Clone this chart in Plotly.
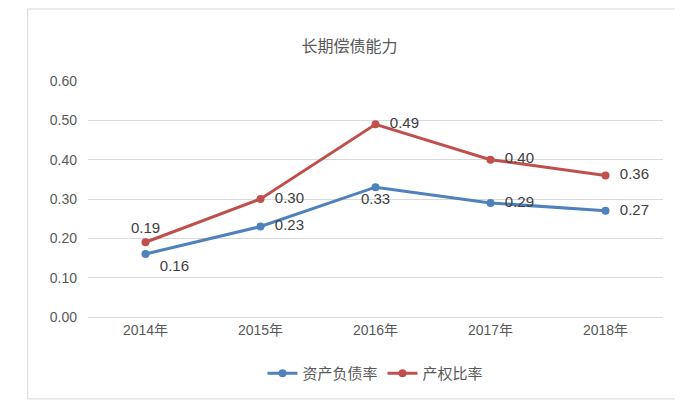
import plotly.graph_objects as go

years = ["2014年", "2015年", "2016年", "2017年", "2018年"]
debt_ratio = [0.16, 0.23, 0.33, 0.29, 0.27]
equity_ratio = [0.19, 0.30, 0.49, 0.40, 0.36]
blue_pos = ["bottom right", "middle right", "bottom center", "middle right", "middle right"]
red_pos = ["top center", "middle right", "middle right", "middle right", "middle right"]

def lab(vals, pos):
    return [("  " if "right" in p else "") + f"{v:.2f}" for v, p in zip(vals, pos)]

font = "Liberation Sans, Noto Sans CJK SC"
fig = go.Figure()
fig.add_trace(go.Scatter(x=years, y=debt_ratio, name="资产负债率", mode="lines+markers+text",
    line=dict(color="#4F81BD", width=3), marker=dict(size=8),
    text=lab(debt_ratio, blue_pos), textposition=blue_pos,
    textfont=dict(size=15, color="#404040")))
fig.add_trace(go.Scatter(x=years, y=equity_ratio, name="产权比率", mode="lines+markers+text",
    line=dict(color="#C0504D", width=3), marker=dict(size=8),
    text=lab(equity_ratio, red_pos), textposition=red_pos,
    textfont=dict(size=15, color="#404040")))

fig.update_layout(
    width=683, height=407, margin=dict(l=80, r=28, t=73, b=98),
    paper_bgcolor="white", plot_bgcolor="white",
    font=dict(family=font, color="#595959", size=14),
    title=dict(text="长期偿债能力", x=0.5, xanchor="center", y=0.92, font=dict(size=16, color="#595959")),
    xaxis=dict(showgrid=False, showline=True, linecolor="#d9d9d9", ticks="", tickfont=dict(size=14),
               range=[-0.5, 4.5]),
    yaxis=dict(range=[0, 0.6], dtick=0.1, tickformat=".2f", gridcolor="#d9d9d9",
               zeroline=False, tickfont=dict(size=14), ticklabelstandoff=10),
    legend=dict(orientation="h", x=0.5, xanchor="center", y=-0.17, yanchor="top",
                font=dict(size=15, color="#595959")),
    showlegend=True,
)
fig.add_shape(type="rect", xref="paper", yref="paper", x0=-0.105, x1=1.03, y0=-0.347, y1=1.305,
              line=dict(color="#d9d9d9", width=1))
fig.write_html("out.html")
